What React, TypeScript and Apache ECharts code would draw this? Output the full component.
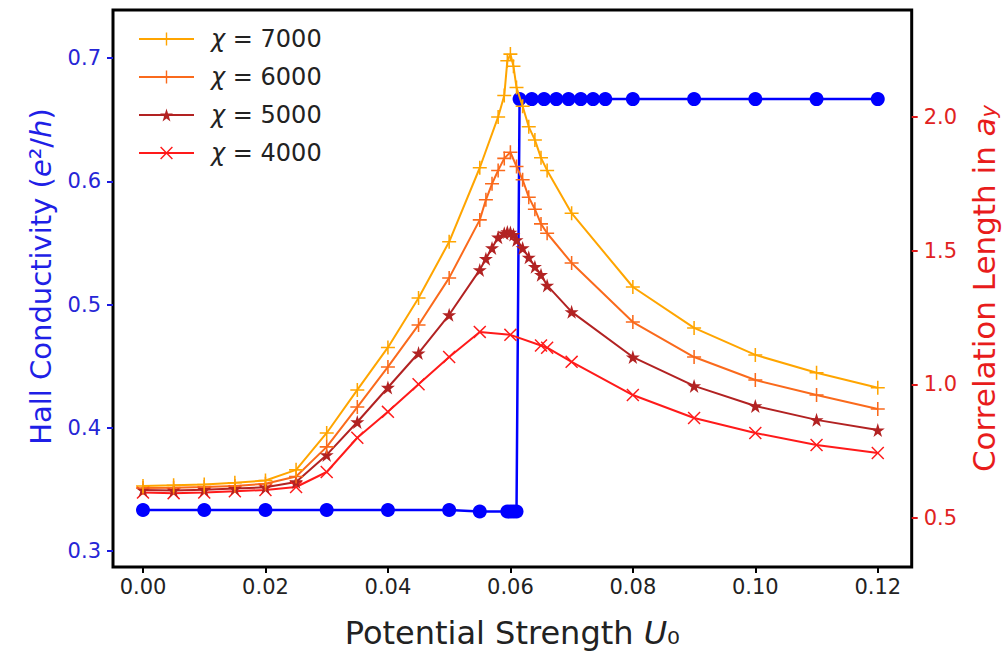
import React, { useEffect, useRef } from "react";
import * as echarts from "echarts";

// ---------- data ----------
const xTicks = [0, 0.02, 0.04, 0.06, 0.08, 0.1, 0.12];
const leftTicks = [0.3, 0.4, 0.5, 0.6, 0.7];
const rightTicks = [0.5, 1.0, 1.5, 2.0];

const hallX = [0, 0.01, 0.02, 0.03, 0.04, 0.05, 0.055, 0.0595, 0.06, 0.0605, 0.061, 0.0615, 0.0635, 0.0655, 0.0675, 0.0695, 0.0715, 0.0735, 0.0755, 0.08, 0.09, 0.1, 0.11, 0.12];
const hallY = [0.3333, 0.3333, 0.3333, 0.3333, 0.3333, 0.3333, 0.332, 0.332, 0.332, 0.332, 0.332, 0.6667, 0.6667, 0.6667, 0.6667, 0.6667, 0.6667, 0.6667, 0.6667, 0.6667, 0.6667, 0.6667, 0.6667, 0.6667];

const x7000 = [0, 0.005, 0.01, 0.015, 0.02, 0.025, 0.03, 0.035, 0.04, 0.045, 0.05, 0.055, 0.058, 0.059, 0.0595, 0.06, 0.0605, 0.061, 0.062, 0.063, 0.064, 0.065, 0.066, 0.07, 0.08, 0.09, 0.1, 0.11, 0.12];
const y7000 = [0.62, 0.622, 0.625, 0.632, 0.64, 0.68, 0.818, 0.979, 1.138, 1.323, 1.533, 1.81, 2.0, 2.08, 2.21, 2.235, 2.19, 2.11, 2.04, 1.963, 1.914, 1.847, 1.8, 1.64, 1.364, 1.211, 1.11, 1.043, 0.987];

const x6000 = [0, 0.005, 0.01, 0.015, 0.02, 0.025, 0.03, 0.035, 0.04, 0.045, 0.05, 0.055, 0.056, 0.057, 0.058, 0.059, 0.06, 0.061, 0.062, 0.063, 0.064, 0.065, 0.066, 0.07, 0.08, 0.09, 0.1, 0.11, 0.12];
const y6000 = [0.612, 0.613, 0.616, 0.62, 0.628, 0.655, 0.766, 0.915, 1.065, 1.222, 1.398, 1.615, 1.69, 1.75, 1.8, 1.845, 1.868, 1.815, 1.765, 1.7, 1.655, 1.6, 1.565, 1.454, 1.233, 1.102, 1.016, 0.96, 0.908];

const x5000 = [0, 0.005, 0.01, 0.015, 0.02, 0.025, 0.03, 0.035, 0.04, 0.045, 0.05, 0.055, 0.056, 0.057, 0.058, 0.059, 0.0595, 0.06, 0.0605, 0.061, 0.062, 0.063, 0.064, 0.065, 0.066, 0.07, 0.08, 0.09, 0.1, 0.11, 0.12];
const y5000 = [0.605, 0.603, 0.606, 0.61, 0.615, 0.635, 0.736, 0.859, 0.988, 1.117, 1.26, 1.428, 1.47, 1.51, 1.55, 1.565, 1.57, 1.568, 1.56, 1.54, 1.51, 1.475, 1.44, 1.41, 1.37, 1.271, 1.102, 0.994, 0.919, 0.867, 0.829];

const x4000 = [0, 0.005, 0.01, 0.015, 0.02, 0.025, 0.03, 0.035, 0.04, 0.045, 0.05, 0.055, 0.06, 0.065, 0.066, 0.07, 0.08, 0.09, 0.1, 0.11, 0.12];
const y4000 = [0.595, 0.593, 0.595, 0.6, 0.605, 0.616, 0.672, 0.8, 0.897, 1.0, 1.102, 1.196, 1.185, 1.145, 1.137, 1.084, 0.96, 0.874, 0.818, 0.773, 0.743];

const seriesNames = ["χ = 7000", "χ = 6000", "χ = 5000", "χ = 4000"];

// ---------- styles ----------
const FONT = "DejaVu Sans";
const TICK = 21;
const PLUS = "path://M-1.1,-10 L1.1,-10 L1.1,-1.1 L10,-1.1 L10,1.1 L1.1,1.1 L1.1,10 L-1.1,10 L-1.1,1.1 L-10,1.1 L-10,-1.1 L-1.1,-1.1Z";
const CROSS = "path://M-10,-8.4 L-8.4,-10 L0,-1.6 L8.4,-10 L10,-8.4 L1.6,0 L10,8.4 L8.4,10 L0,1.6 L-8.4,10 L-10,8.4 L-1.6,0Z";
const STAR = "path://M0,-10 L2.245,-3.09 L9.511,-3.09 L3.633,1.18 L5.878,8.09 L0,3.82 L-5.878,8.09 L-3.633,1.18 L-9.511,-3.09 L-2.245,-3.09Z";

const zip = (xs: number[], ys: number[]) => xs.map((x, i) => [x, ys[i]]);

export default function App() {
  const ref = useRef<HTMLDivElement>(null);
  useEffect(() => {
    if (!ref.current) return;
    const chart = echarts.init(ref.current, null, { renderer: "svg" });
    const curve = (name: string, xs: number[], ys: number[], color: string, symbol: string, size: number) => ({
      name,
      type: "line",
      yAxisIndex: 1,
      data: zip(xs, ys),
      symbol,
      symbolSize: size,
      showSymbol: true,
      lineStyle: { color, width: 2 },
      itemStyle: { color },
      z: 3,
    });
    chart.setOption({
      animation: false,
      backgroundColor: "#fff",
      textStyle: { fontFamily: FONT },
      grid: {
        left: 113,
        right: 94,
        top: 10,
        bottom: 92,
        show: true,
        borderColor: "#000",
        borderWidth: 3,
        backgroundColor: "transparent",
      },
      legend: {
        data: seriesNames,
        orient: "vertical",
        left: 133,
        top: 22,
        itemWidth: 55,
        itemHeight: 16,
        itemGap: 14,
        formatter: (n: string) => n.replace("χ", "{it|χ}"),
        textStyle: {
          fontFamily: FONT,
          fontSize: 24,
          color: "#222",
          padding: [0, 0, 0, 12],
          rich: { it: { fontFamily: FONT, fontStyle: "italic", fontSize: 24, color: "#222" } },
        },
      },
      xAxis: {
        type: "value",
        min: -0.0049,
        max: 0.12554,
        splitLine: { show: false },
        axisLine: { show: false, onZero: false },
        axisTick: { show: true, customValues: xTicks, length: 6, lineStyle: { color: "#000", width: 2 } },
        axisLabel: {
          customValues: xTicks,
          formatter: (v: number) => v.toFixed(2),
          fontSize: TICK,
          color: "#222",
          fontFamily: FONT,
          margin: 9,
        },
        name: "Potential Strength {it|U}₀",
        nameLocation: "middle",
        nameGap: 50,
        nameTextStyle: {
          fontFamily: FONT,
          fontSize: 32,
          color: "#222",
          rich: { it: { fontFamily: FONT, fontStyle: "italic", fontSize: 32, color: "#222" } },
        },
      },
      yAxis: [
        {
          type: "value",
          position: "left",
          min: 0.287,
          max: 0.739,
          splitLine: { show: false },
          axisLine: { show: false, onZero: false },
          axisTick: { show: true, customValues: leftTicks, length: 6, lineStyle: { color: "#1a1ae0", width: 2 } },
          axisLabel: {
            customValues: leftTicks,
            formatter: (v: number) => v.toFixed(1),
            fontSize: TICK,
            color: "#2626d6",
            fontFamily: FONT,
            margin: 12,
          },
          name: "Hall Conductivity ({it|e}²/{it|h})",
          nameLocation: "middle",
          nameRotate: 90,
          nameGap: 58,
          nameTextStyle: {
            fontFamily: FONT,
            fontSize: 29,
            color: "#1f1fe6",
            padding: [0, 0, 0, 24],
            rich: { it: { fontFamily: FONT, fontStyle: "italic", fontSize: 29, color: "#1f1fe6" } },
          },
        },
        {
          type: "value",
          position: "right",
          min: 0.3167,
          max: 2.4,
          splitLine: { show: false },
          axisLine: { show: false, onZero: false },
          axisTick: { show: true, customValues: rightTicks, length: 6, lineStyle: { color: "#e01a1a", width: 2 } },
          axisLabel: {
            customValues: rightTicks,
            formatter: (v: number) => v.toFixed(1),
            fontSize: TICK,
            color: "#e02222",
            fontFamily: FONT,
            margin: 12,
          },
          name: "Correlation Length in {it|a}{sub|y}",
          nameLocation: "middle",
          nameRotate: 90,
          nameGap: 55,
          nameTextStyle: {
            fontFamily: FONT,
            fontSize: 31,
            color: "#e81c1c",
            rich: {
              it: { fontFamily: FONT, fontStyle: "italic", fontSize: 31, color: "#e81c1c" },
              sub: { fontFamily: FONT, fontStyle: "italic", fontSize: 21, color: "#e81c1c", verticalAlign: "bottom", padding: [10, 0, 0, 0] },
            },
          },
        },
      ],
      series: [
        {
          name: "hall",
          type: "line",
          yAxisIndex: 0,
          data: zip(hallX, hallY),
          symbol: "circle",
          symbolSize: 14,
          showSymbol: true,
          lineStyle: { color: "#0000ff", width: 2.5 },
          itemStyle: { color: "#0000ff" },
          z: 2,
        },
        curve(seriesNames[3], x4000, y4000, "#ff1a1a", CROSS, 13),
        curve(seriesNames[2], x5000, y5000, "#b22222", STAR, 14),
        curve(seriesNames[1], x6000, y6000, "#fa6a1c", PLUS, 14),
        curve(seriesNames[0], x7000, y7000, "#ffa500", PLUS, 14),
      ],
    });
    return () => chart.dispose();
  }, []);
  return (
    <div
      ref={ref}
      style={{ position: "fixed", left: 0, top: 0, width: 1007, height: 659, background: "#fff" }}
    />
  );
}
